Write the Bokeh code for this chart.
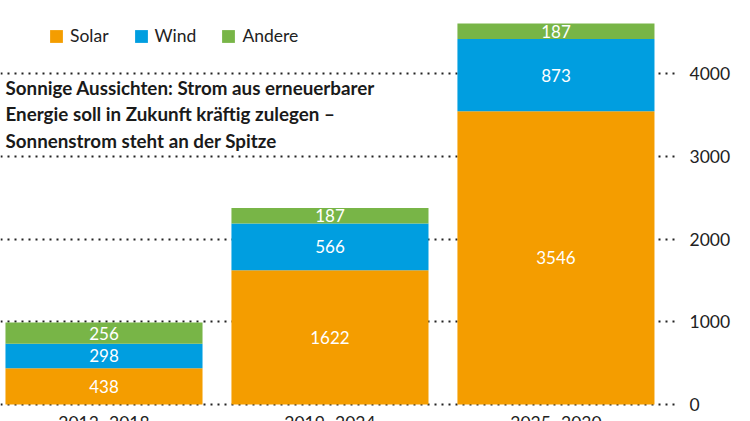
from bokeh.plotting import figure
from bokeh.models import ColumnDataSource, Range1d, FixedTicker, Label
from bokeh.core.properties import value
from bokeh.embed import file_html
from bokeh.resources import INLINE
import numpy as np

categories = ["2013–2018", "2019–2024", "2025–2030"]
solar = [438, 1622, 3546]
wind = [298, 566, 873]
andere = [256, 187, 187]
series = ["Solar", "Wind", "Andere"]
colors = ["#F49D00", "#009EE0", "#78B547"]
y_ticks = [0, 1000, 2000, 3000, 4000, 5000]
title_text = ("Sonnige Aussichten: Strom aus erneuerbarer\n"
              "Energie soll in Zukunft kräftig zulegen –\n"
              "Sonnenstrom steht an der Spitze")

FONT = "Lato"
FH = 421

xs = np.arange(len(categories))
src = ColumnDataSource(dict(x=xs, Solar=solar, Wind=wind, Andere=andere))

p = figure(frame_width=675, frame_height=FH, output_backend="svg",
           toolbar_location=None, x_axis_location=None, y_axis_location="right",
           x_range=Range1d(-0.458, 2.529), y_range=Range1d(-205.6, 4885),
           min_border_left=0, min_border_right=0, min_border_top=0, min_border_bottom=0)
p.outline_line_color = None
p.background_fill_color = "white"

p.vbar_stack(series, x="x", width=0.872, source=src, color=colors,
             line_color=None, legend_label=series)

# segment labels
vals = np.array([solar, wind, andere], dtype=float)
tops = np.cumsum(vals, axis=0)
mids = tops - vals / 2
lx, ly, lt = [], [], []
for i in range(vals.shape[0]):
    for j in range(vals.shape[1]):
        lx.append(xs[j]); ly.append(mids[i, j]); lt.append(str(int(vals[i, j])))
p.text(x=lx, y=ly, text=lt, text_align="center", text_baseline="middle",
       text_color="white", text_font=value(FONT), text_font_size="17px")

# category labels (cut at the bottom like the reference)
p.text(x=xs, y=[0] * len(xs), text=categories, text_align="center", text_baseline="top",
       y_offset=8, text_color="#222222", text_font=value(FONT), text_font_size="17.5px")

# axes / grid
p.yaxis.ticker = FixedTicker(ticks=y_ticks)
p.yaxis.axis_line_color = None
p.yaxis.major_tick_line_color = None
p.yaxis.minor_tick_line_color = None
p.yaxis.major_label_standoff = 8
p.yaxis.major_label_text_font = FONT
p.yaxis.major_label_text_font_size = "17.5px"
p.yaxis.major_label_text_color = "#222222"
p.xgrid.grid_line_color = None
p.ygrid.ticker = FixedTicker(ticks=y_ticks)
p.ygrid.grid_line_color = "#222222"
p.ygrid.grid_line_width = 2
p.ygrid.grid_line_dash = "2 5"

# legend
lg = p.legend[0]
lg.orientation = "horizontal"
lg.location = (48, FH - 46)
lg.margin = 0
lg.padding = 0
lg.spacing = 24
lg.glyph_width = 16
lg.glyph_height = 16
lg.label_height = 16
lg.label_standoff = 6
lg.border_line_color = None
lg.background_fill_alpha = 0
lg.label_text_font = FONT
lg.label_text_font_size = "17.5px"
lg.label_text_color = "#222222"

# title
p.add_layout(Label(x=5, y=FH - 75, x_units="screen", y_units="screen", text=title_text,
                   text_font=FONT, text_font_style="bold", text_font_size="18.8px",
                   text_baseline="top", text_align="left", text_color="#1a1a1a",
                   text_line_height=1.17))

open("out.html", "w").write(file_html(p, INLINE))
